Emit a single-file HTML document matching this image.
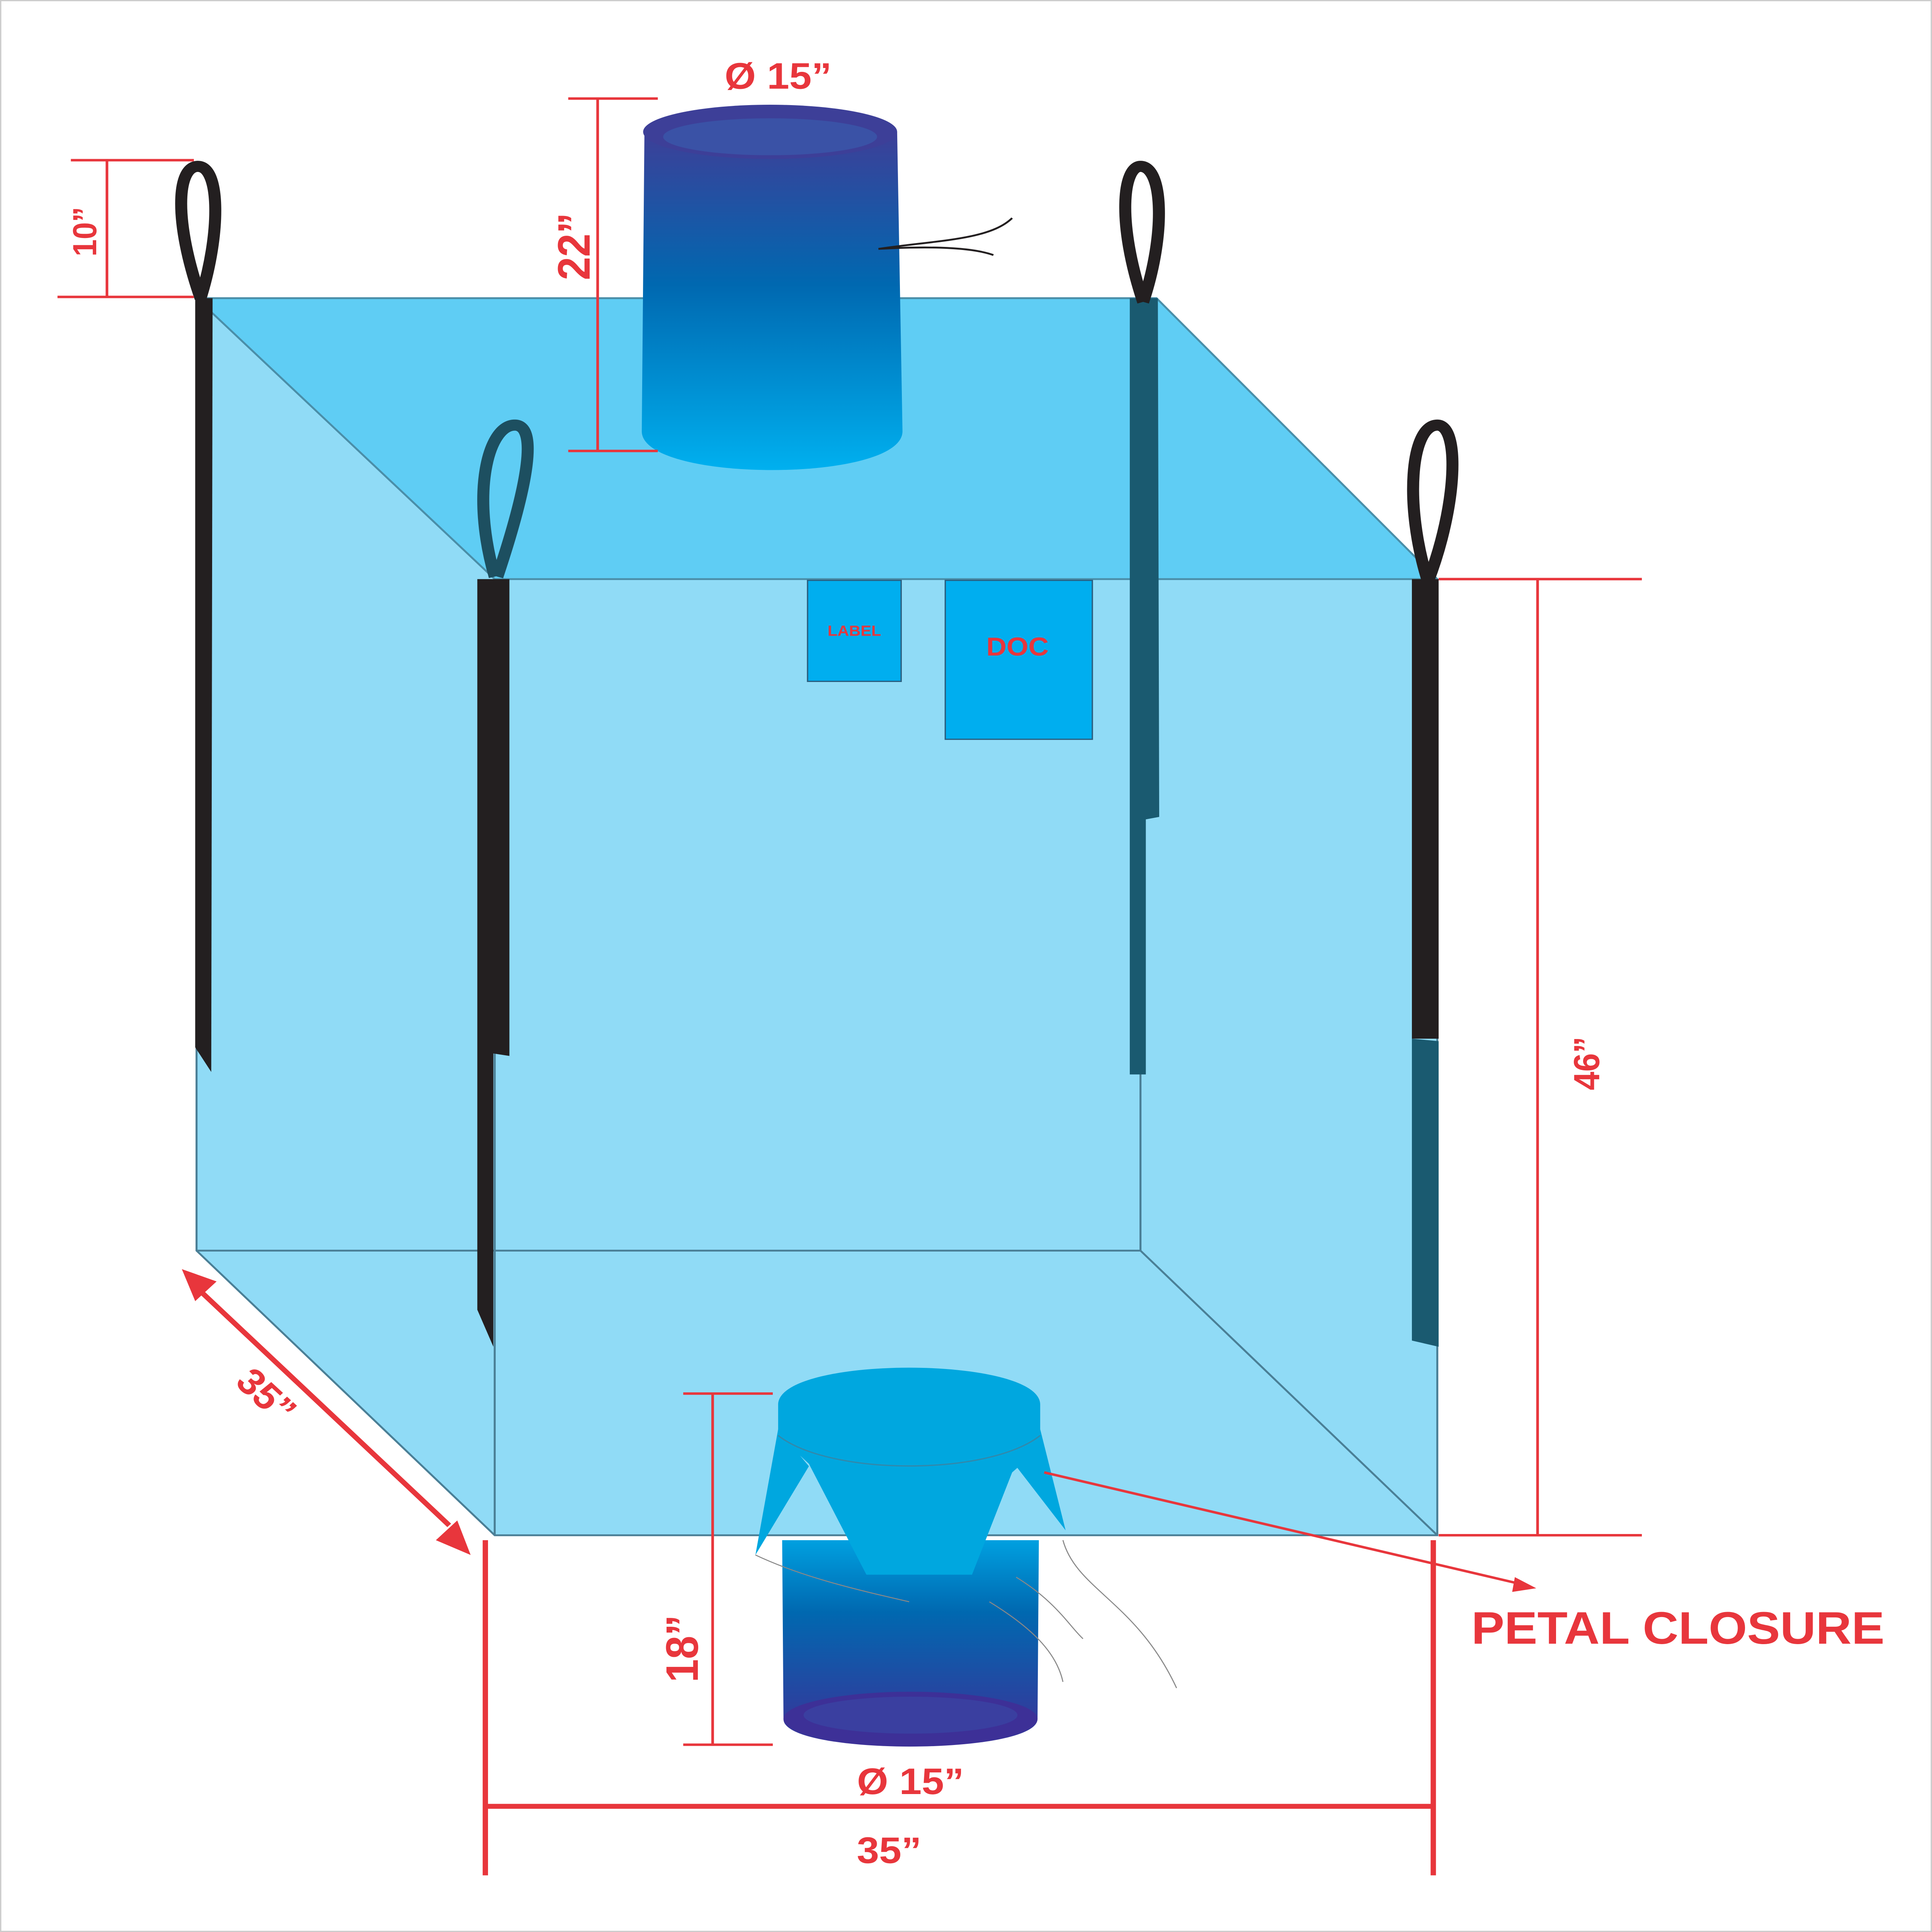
<!DOCTYPE html>
<html><head><meta charset="utf-8"><style>
html,body{margin:0;padding:0;background:#fff;width:100%;height:100%;overflow:hidden;}
svg{display:block;width:100vw;height:100vh;position:absolute;left:0;top:0;}
text{font-family:"Liberation Sans",sans-serif;font-weight:bold;fill:#e8363c;}
</style></head><body>
<svg viewBox="0 0 1445 1568" preserveAspectRatio="none" xmlns="http://www.w3.org/2000/svg">
<defs>
<linearGradient id="sp" x1="0" y1="0" x2="0" y2="1">
<stop offset="0" stop-color="#3d3f98"/><stop offset="0.45" stop-color="#0068b0"/><stop offset="1" stop-color="#00b0ef"/>
</linearGradient>
<linearGradient id="sp2" x1="0" y1="0" x2="0" y2="1">
<stop offset="0" stop-color="#00a0e0"/><stop offset="0.35" stop-color="#0068b0"/><stop offset="1" stop-color="#3d3097"/>
</linearGradient>
</defs>
<rect x="0.5" y="0.5" width="1444" height="1567" fill="#fff" stroke="#ccc" stroke-width="1"/>
<polygon points="147,242 865,242 1075,470 1075,1246 370,1246 147,1015" fill="#90dbf6"/>
<polygon points="147,242 865,242 1075,470 370,470" fill="#5fcdf4" stroke="#4a8ea8" stroke-width="1.5"/>
<g stroke="#4a7f96" stroke-width="1.5" fill="none">
<polyline points="147,242 147,1015 370,1246 1075,1246 1075,470"/>
<line x1="370" y1="470" x2="370" y2="1246"/>
<line x1="853" y1="470" x2="853" y2="1015"/>
<line x1="147" y1="1015" x2="853" y2="1015"/>
<line x1="853" y1="1015" x2="1075" y2="1246"/>
</g>
<polygon points="146,242 159,242 158,870 146,850" fill="#231f20"/>
<polygon points="357,470 381,470 381,857 369,855 369,1093 357,1063" fill="#231f20"/>
<polygon points="845,242 866,242 867,663 857,665 857,872 845,872" fill="#1a5a70"/>
<polygon points="1056,470 1076,470 1076,843 1056,843" fill="#231f20"/>
<polygon points="1056,843 1076,845 1076,1093 1056,1088" fill="#1a5a70"/>
<g fill="none" stroke-width="9">
<path d="M150,242 C130,180 132,135 148,135 C165,135 165,190 150,242" stroke="#231f20"/>
<path d="M370,468 C352,400 365,345 385,345 C402,345 396,390 372,468" stroke="#1d4f60"/>
<path d="M855,245 C835,180 840,135 853,135 C870,135 872,190 855,245" stroke="#231f20"/>
<path d="M1068,472 C1050,410 1055,345 1075,345 C1092,345 1090,410 1068,472" stroke="#231f20"/>
</g>
<path d="M482,107 L671,107 L675,350 C675,392 480,392 480,350 Z" fill="url(#sp)"/>
<ellipse cx="576" cy="107" rx="95" ry="22" fill="#3d3f98"/>
<ellipse cx="576" cy="111" rx="80" ry="15" fill="#3a52a6"/>
<path d="M657,202 C700,195 740,195 757,177 M657,202 C690,200 725,200 743,207" stroke="#231f20" stroke-width="1.5" fill="none"/>
<rect x="604" y="471" width="70" height="82" fill="#00aeef" stroke="#2a5f80" stroke-width="1"/>
<text x="639" y="516" font-size="12" text-anchor="middle">LABEL</text>
<rect x="707" y="471" width="110" height="129" fill="#00aeef" stroke="#2a5f80" stroke-width="1"/>
<text x="761" y="532" font-size="21" text-anchor="middle">DOC</text>
<path d="M585,1250 L777,1250 L776,1395 C776,1425 585,1425 586,1395 Z" fill="url(#sp2)"/>
<ellipse cx="681" cy="1395" rx="95" ry="22" fill="#3d3097"/>
<ellipse cx="681" cy="1392" rx="80" ry="15" fill="#3a3fa0"/>
<polygon points="582,1160 605,1190 565,1262" fill="#00a7df"/>
<polygon points="778,1160 760,1190 797,1242" fill="#00a7df"/>
<path d="M582,1140 C582,1100 778,1100 778,1140 L778,1175 L757,1195 L727,1278 L648,1278 L605,1188 L582,1165 Z" fill="#00a7df"/>
<path d="M582,1165 C620,1198 740,1198 778,1165" stroke="#3388aa" stroke-width="1" fill="none"/>
<g stroke="#888" stroke-width="0.8" fill="none">
<path d="M565,1262 C600,1280 640,1290 680,1300"/>
<path d="M795,1250 C805,1290 850,1300 880,1370"/>
<path d="M760,1280 C790,1300 800,1320 810,1330"/>
<path d="M740,1300 C770,1320 790,1340 795,1365"/>
</g>
<g stroke="#e8363c" stroke-width="2" fill="none">
<line x1="53" y1="130" x2="145" y2="130"/><line x1="43" y1="241" x2="145" y2="241"/><line x1="80" y1="130" x2="80" y2="241"/>
<line x1="425" y1="80" x2="492" y2="80"/><line x1="425" y1="366" x2="492" y2="366"/><line x1="447" y1="80" x2="447" y2="366"/>
<line x1="1076" y1="470" x2="1228" y2="470"/><line x1="1076" y1="1246" x2="1228" y2="1246"/><line x1="1150" y1="470" x2="1150" y2="1246"/>
<line x1="511" y1="1131" x2="578" y2="1131"/><line x1="511" y1="1416" x2="578" y2="1416"/><line x1="533" y1="1131" x2="533" y2="1416"/>
<line x1="781" y1="1195" x2="1135" y2="1285"/>
</g>
<g stroke="#e8363c" stroke-width="4" fill="none">
<line x1="363" y1="1250" x2="363" y2="1522"/><line x1="1072" y1="1250" x2="1072" y2="1522"/><line x1="363" y1="1466" x2="1072" y2="1466"/>
<line x1="150" y1="1048" x2="336" y2="1238"/>
</g>
<polygon points="1149,1289 1133,1280 1131,1292" fill="#e8363c"/>
<polygon points="136,1030 162,1040 146,1056" fill="#e8363c"/>
<polygon points="352,1262 326,1250 342,1234" fill="#e8363c"/>
<text x="582" y="72" font-size="30" text-anchor="middle">Ø 15”</text>
<text x="681" y="1456" font-size="30" text-anchor="middle">Ø 15”</text>
<text x="665" y="1512" font-size="30" text-anchor="middle">35”</text>
<text x="1255" y="1334" font-size="37" text-anchor="middle">PETAL CLOSURE</text>
<text font-size="25" text-anchor="middle" transform="translate(72,188) rotate(-90)">10”</text>
<text font-size="34" text-anchor="middle" transform="translate(441,200) rotate(-90)">22”</text>
<text font-size="27" text-anchor="middle" transform="translate(1196,863) rotate(-90)">46”</text>
<text font-size="34" text-anchor="middle" transform="translate(522,1338) rotate(-90)">18”</text>
<text font-size="30" text-anchor="middle" transform="translate(192,1140) rotate(45)">35”</text>
</svg>
</body></html>
